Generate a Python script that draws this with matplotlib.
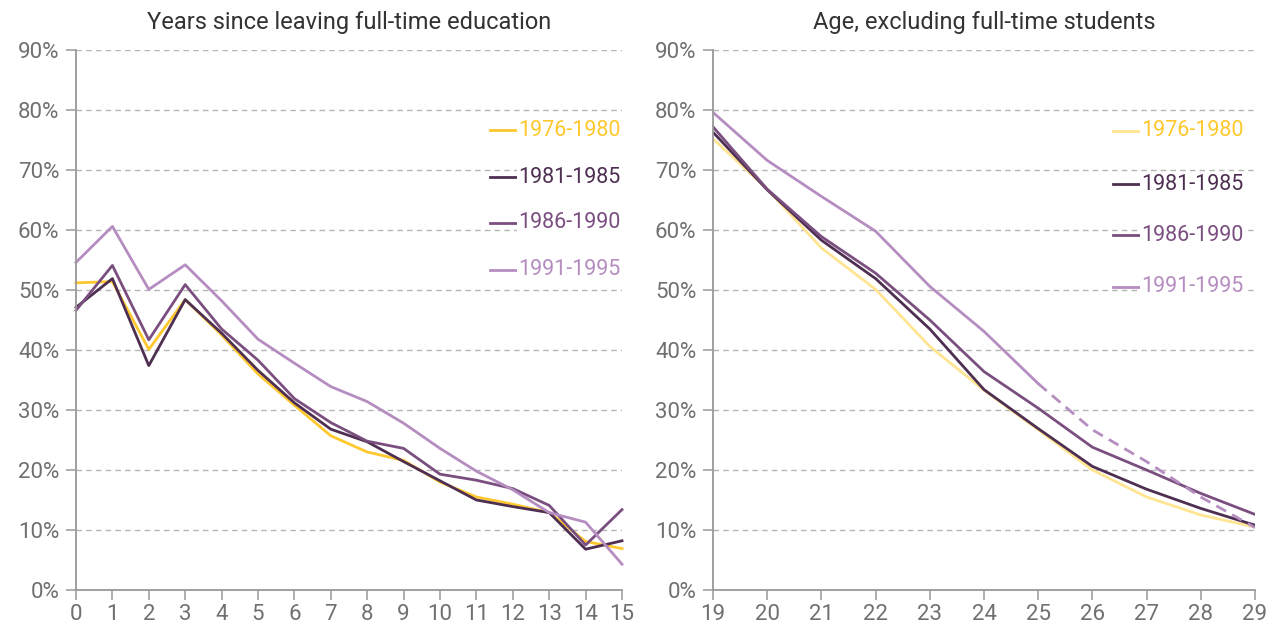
import numpy as np
import matplotlib.pyplot as plt

plt.rcParams['font.family'] = ['Roboto', 'DejaVu Sans']

# Left panel: years since leaving full-time education
years = list(range(0, 16))
left_1976 = [51.2, 51.4, 40.1, 48.4, 42.5, 36.0, 30.8, 25.7, 23.0, 21.6, 18.0, 15.5, 14.3, 12.9, 8.1, 6.9]
left_1981 = [47.1, 51.9, 37.4, 48.4, 42.8, 36.6, 31.2, 26.8, 24.7, 21.4, 18.2, 15.0, 13.9, 12.9, 6.8, 8.2]
left_1986 = [46.6, 54.1, 41.7, 50.9, 43.5, 38.3, 31.9, 27.9, 24.8, 23.6, 19.3, 18.3, 16.9, 14.1, 7.5, 13.4]
left_1991 = [54.6, 60.6, 50.1, 54.2, 48.2, 41.8, 37.8, 33.9, 31.4, 27.8, 23.6, 19.8, 16.7, 12.9, 11.3, 4.3]

# Right panel: age, excluding full-time students
ages = list(range(19, 30))
right_1976 = [75.2, 66.8, 57.0, 50.1, 40.6, 33.3, 26.7, 20.0, 15.5, 12.5, 10.5]
right_1981 = [76.3, 66.7, 58.3, 51.9, 43.5, 33.4, 26.9, 20.6, 16.8, 13.6, 10.8]
right_1986 = [77.2, 66.8, 58.9, 52.8, 45.0, 36.4, 30.3, 23.8, 20.0, 16.1, 12.6]
right_1991 = [79.6, 71.6, 65.6, 59.8, 50.6, 43.1, 34.4, 26.7, 21.4, 15.5, 10.4]
solid_until = 25  # 1991-1995 dashed after this age

labels = ['1976-1980', '1981-1985', '1986-1990', '1991-1995']
colors = ['#FFC82E', '#4E2F52', '#7A4F80', '#B58DC0']
right_yellow = '#FFE591'
label_gray = '#707070'

fig = plt.figure(figsize=(12.77, 6.3), dpi=100)
ax1 = fig.add_axes([76 / 1277, 40 / 630, 546 / 1277, 540 / 630])
ax2 = fig.add_axes([713 / 1277, 40 / 630, 542 / 1277, 540 / 630])


def style_axis(ax, xlo, xhi):
    ax.set_xlim(xlo, xhi)
    ax.set_ylim(0, 90)
    ax.set_yticks(range(0, 91, 10))
    ax.set_yticklabels([f'{v}%' for v in range(0, 91, 10)])
    ax.set_xticks(range(xlo, xhi + 1))
    for v in range(10, 91, 10):
        ax.axhline(v, color='#b5b5b5', lw=1, ls=(0, (4, 3)), zorder=0)
    for s in ['top', 'right']:
        ax.spines[s].set_visible(False)
    for s in ['left', 'bottom']:
        ax.spines[s].set_color('#999999')
        ax.spines[s].set_linewidth(1.3)
    ax.tick_params(axis='both', colors='#999999', labelcolor=label_gray,
                   labelsize=16, length=7, width=1.1)
    ax.tick_params(axis='y', pad=5)
    ax.tick_params(axis='x', pad=3)


style_axis(ax1, 0, 15)
style_axis(ax2, 19, 29)

left_series = [left_1976, left_1981, left_1986, left_1991]
for vals, c in zip(left_series, colors):
    ax1.plot(years, vals, color=c, lw=2, clip_on=False)

right_series = [right_1976, right_1981, right_1986, right_1991]
right_colors = [right_yellow] + colors[1:]
for i, (vals, c) in enumerate(zip(right_series, right_colors)):
    if i == 3:
        k = ages.index(solid_until)
        ax2.plot(ages[:k + 1], vals[:k + 1], color=c, lw=2)
        ax2.plot(ages[k:], vals[k:], color=c, lw=2, ls=(0, (4, 2.5)))
    else:
        ax2.plot(ages, vals, color=c, lw=2)

ax1.set_title('Years since leaving full-time education', fontsize=17, color='#333333', pad=15)
ax2.set_title('Age, excluding full-time students', fontsize=17, color='#333333', pad=15)

# manual legends
left_leg_y = [130, 177, 223, 270]
for lab, c, yp in zip(labels, colors, left_leg_y):
    yf = (590 - yp) / 6 / 90
    ax1.plot([0.758, 0.81], [yf, yf], color=c, lw=2, transform=ax1.transAxes)
    ax1.text(0.81, yf, lab, color=c, fontsize=15.5, va='center', ha='left',
             transform=ax1.transAxes, clip_on=False,
             bbox=dict(facecolor='white', edgecolor='none', pad=1))

right_leg_y = [131, 184, 235, 287]
for lab, c, lc, yp in zip(labels, colors, right_colors, right_leg_y):
    yf = (590 - yp) / 6 / 90
    ax2.plot([0.738, 0.79], [yf, yf], color=lc, lw=2, transform=ax2.transAxes)
    ax2.text(0.79, yf, lab, color=c, fontsize=15.5, va='center', ha='left',
             transform=ax2.transAxes, clip_on=False,
             bbox=dict(facecolor='white', edgecolor='none', pad=1))

fig.savefig('out.png', dpi=100)
